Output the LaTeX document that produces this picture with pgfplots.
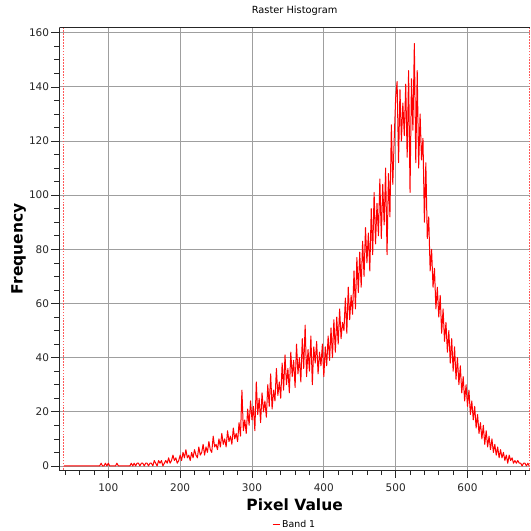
\documentclass[border=0pt]{standalone}
\usepackage{pgfplots}
\pgfplotsset{compat=1.18}
\usepackage{fontspec}
\setmainfont{DejaVu Sans}

\begin{document}
\begin{tikzpicture}
\begin{axis}[
    name=ax,
    scale only axis,
    width=470.7pt, height=442.3pt,
    xmin=31.8, xmax=687,
    ymin=-1.5, ymax=161.85,
    axis x line*=bottom, axis y line*=left,
    axis line style={-, black!85, line width=0.8pt},
    xtick={100,200,...,600},
    minor xtick={40,60,...,680},
    ytick={0,20,...,160},
    minor ytick={0,5,...,160},
    tick align=outside,
    major tick length=8pt, minor tick length=5pt,
    tick style={black!85, line width=0.7pt},
    grid=major,
    major grid style={gray!75, line width=0.8pt},
    /pgf/number format/assume math mode=true,
    tick label style={font=\fontsize{10.5}{12}\selectfont, text=black!85},
    xticklabel style={anchor=base, yshift=-13pt},
    yticklabel style={anchor=east, inner sep=0pt, xshift=-2pt},
    title={Raster Histogram},
    title style={at={(axis description cs:0.5,1)}, anchor=base, yshift=8pt,
                 font=\fontsize{9.8}{12}\selectfont},
    xlabel={Pixel Value},
    xlabel style={at={(axis description cs:0.5,-0.092)}, anchor=base,
                  font=\fontsize{15.5}{18}\selectfont\bfseries},
    ylabel={Frequency},
    ylabel style={at={(axis description cs:-0.0778,0.5)}, anchor=base,
                  font=\fontsize{15.5}{18}\selectfont\bfseries},
    legend style={at={(axis description cs:0.5,-0.1237)}, anchor=center,
                  draw=none, fill=none, inner sep=0pt,
                  font=\fontsize{9.4}{11}\selectfont},
    legend image code/.code={\draw[red, line width=1pt] (0pt,0pt) -- (7pt,0pt);},
]
% min / max markers
\addplot[forget plot, red!65, line width=0.8pt, dash pattern=on 1.6pt off 1.3pt]
  coordinates {(38,-1.5) (38,161.85)};
\addplot[forget plot, red!65, line width=0.8pt, dash pattern=on 1.6pt off 1.3pt]
  coordinates {(686,-1.5) (686,161.85)};

\addplot[red, line width=1pt, line join=round] coordinates {
(38,0) (40,0) (42,0) (44,0) (46,0) (48,0) (50,0) (52,0) (54,0) (56,0)
(58,0) (60,0) (62,0) (64,0) (66,0) (68,0) (70,0) (72,0) (74,0) (76,0)
(78,0) (80,0) (82,0) (84,0) (86,0) (88,0) (90,1) (92,0) (94,0) (96,1)
(98,0) (100,1) (102,0) (104,0) (106,0) (108,0) (110,0) (112,1) (114,0) (116,0)
(118,0) (120,0) (122,0) (124,0) (126,0) (128,0) (130,0) (132,1) (134,0) (136,1)
(138,0) (140,1) (142,1) (144,0) (146,1) (148,1) (150,0) (152,1) (154,1) (156,0)
(158,1) (160,1) (162,0) (164,2) (166,1) (168,0) (170,2) (172,1) (174,2) (176,0)
(178,1) (180,2) (182,1) (184,3) (186,1) (188,2) (190,4) (192,2) (194,3) (196,1)
(198,2) (200,4) (202,2) (204,5) (206,3) (208,6) (210,3) (212,4) (214,2) (216,5)
(218,3) (220,6) (222,4) (224,3) (226,7) (228,4) (230,5) (232,8) (234,4) (236,7)
(238,5) (240,9) (242,6) (244,5) (246,11) (248,7) (250,8) (252,6) (254,10) (256,7)
(258,12) (260,8) (262,10) (264,7) (266,13) (268,9) (270,11) (272,8) (274,14) (276,10)
(278,12) (280,9) (282,16) (284,11) (286,28) (288,13) (290,17) (292,12) (294,21) (296,15)
(298,24) (300,17) (302,22) (304,13) (306,31) (308,19) (310,25) (312,16) (314,27) (316,20)
(318,24) (320,18) (322,30) (324,22) (326,34) (328,21) (330,28) (332,24) (334,36) (336,26)
(338,31) (340,25) (342,38) (344,28) (346,41) (348,30) (350,36) (352,27) (354,42) (356,33)
(358,39) (360,29) (362,45) (364,34) (366,40) (368,31) (370,47) (372,36) (374,52) (376,33)
(378,43) (380,35) (382,48) (384,30) (386,44) (388,38) (390,46) (392,34) (394,42) (396,37)
(398,45) (400,33) (402,44) (404,37) (406,48) (408,39) (410,51) (412,40) (414,54) (416,42)
(418,55) (420,45) (422,58) (424,47) (426,53) (428,50) (430,62) (432,49) (434,66) (436,54)
(438,63) (440,56) (442,72) (444,58) (446,77) (448,64) (450,79) (452,66) (454,83) (456,70)
(458,88) (460,75) (462,86) (464,72) (466,95) (468,78) (470,101) (472,82) (474,97) (476,85)
(478,106) (480,84) (482,104) (484,89) (486,110) (488,78) (490,108) (492,92) (494,126) (496,104)
(498,121) (500,136) (502,142) (504,112) (506,139) (508,120) (510,134) (512,122) (514,141) (516,114)
(518,146) (520,101) (522,143) (524,124) (526,156) (528,112) (530,146) (532,110) (534,130) (536,113)
(538,121) (540,90) (542,112) (544,84) (546,92) (548,72) (550,80) (552,66) (554,73) (556,58)
(558,66) (560,55) (562,63) (564,49) (566,58) (568,46) (570,53) (572,42) (574,50) (576,38)
(578,47) (580,35) (582,44) (584,32) (586,40) (588,30) (590,37) (592,27) (594,33) (596,24)
(598,30) (600,22) (602,28) (604,19) (606,24) (608,17) (610,22) (612,14) (614,19) (616,12)
(618,16) (620,10) (622,15) (624,8) (626,13) (628,7) (630,11) (632,6) (634,10) (636,5)
(638,8) (640,4) (642,7) (644,3) (646,6) (648,3) (650,5) (652,2) (654,4) (656,1)
(658,4) (660,2) (662,3) (664,1) (666,2) (668,1) (670,2) (672,1) (674,1) (676,0)
(678,1) (680,1) (682,0) (684,1) (686,0)
};
\addlegendentry{Band 1}

% top frame line (no right-hand frame in the reference)
\draw[black!85, line width=0.8pt] (rel axis cs:0,1) -- (rel axis cs:1,1);
\end{axis}
\pgfresetboundingbox
\path[use as bounding box] ([shift={(-59.3pt,-61pt)}]ax.south west)
  rectangle ([shift={(0pt,27.7pt)}]ax.north east);
\end{tikzpicture}
\end{document}
